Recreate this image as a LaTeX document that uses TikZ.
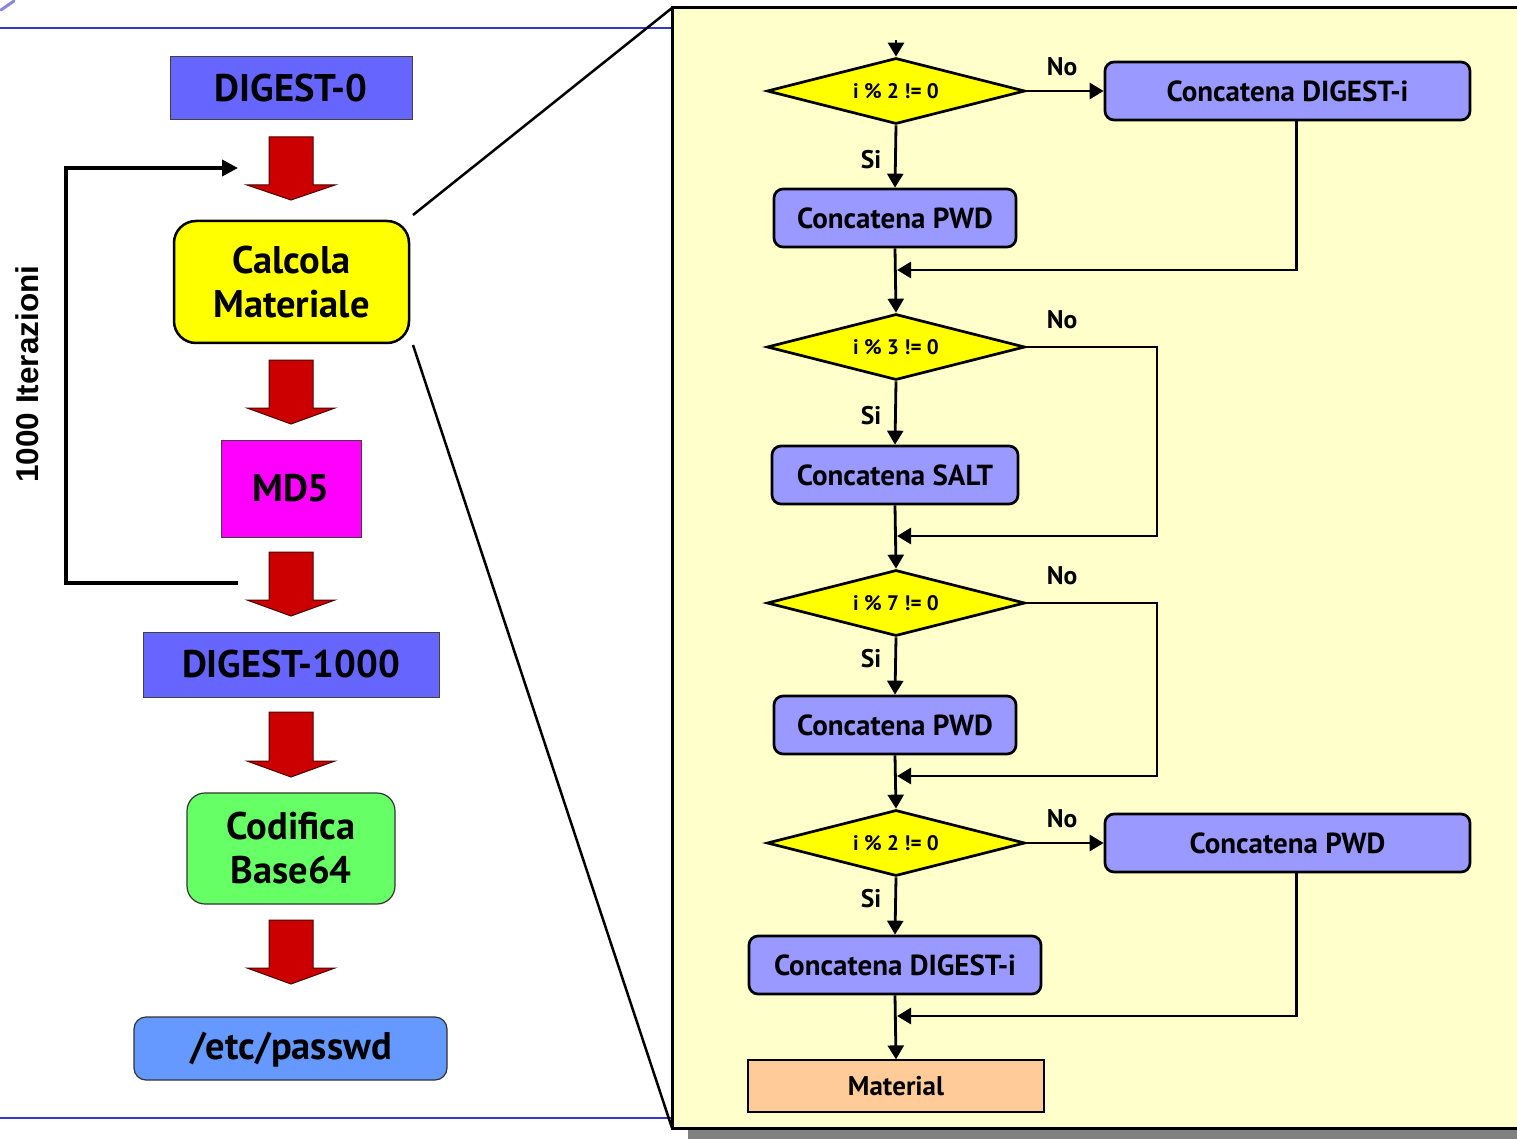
\documentclass[tikz,border=0pt]{standalone}
\usepackage{fontspec}
\setmainfont{PT Sans}
\newfontfamily\arialfont{Liberation Sans}
\usetikzlibrary{shapes.geometric,arrows.meta}
\definecolor{digblue}{HTML}{6666FF}
\definecolor{calcyel}{HTML}{FFFF00}
\definecolor{mdmag}{HTML}{FF00FF}
\definecolor{codgreen}{HTML}{66FF66}
\definecolor{pwblue}{HTML}{6699FF}
\definecolor{arrred}{HTML}{CC0000}
\definecolor{panelbg}{HTML}{FFFFCC}
\definecolor{boxblue}{HTML}{9999FF}
\definecolor{matorange}{HTML}{FFCC99}
\definecolor{rulecol}{HTML}{3838C8}
\definecolor{shadowgray}{HTML}{808080}
\newcommand\redblock[4]{\draw[blockarrow] (#1-22,#2) -- (#1+22,#2) -- (#1+22,#3) -- (#1+44,#3) -- (#1,#4) -- (#1-44,#3) -- (#1-22,#3) -- cycle;}
\tikzset{
  lbox/.style={draw=black!75, line width=1pt, inner sep=0pt, align=center,
    font=\bfseries\fontsize{38.5}{44}\selectfont},
  pbox/.style={draw=black, line width=2.7pt, rounded corners=9pt, fill=boxblue,
    minimum height=58pt, inner sep=0pt, font=\bfseries\fontsize{29}{32}\selectfont},
  cond/.style={diamond, draw=black, line width=2.7pt, fill=calcyel, aspect=3.9,
    minimum width=258pt, minimum height=66pt, inner sep=0pt,
    font=\bfseries\fontsize{21}{24}\selectfont},
  conn/.style={line width=2.8pt, -{Triangle[length=14pt,width=16pt]}},
  lab/.style={font=\bfseries\fontsize{25.5}{28}\selectfont},
  blockarrow/.style={fill=arrred, draw=black!70!red, line width=1pt},
  loopline/.style={line width=3.8pt, -{Triangle[length=16pt,width=16pt]}},
  zoomline/.style={line width=2.5pt},
}
\begin{document}
\begin{tikzpicture}[x=1pt,y=-1pt]
\useasboundingbox (0,0) rectangle (1517,1139);
\fill[white] (0,0) rectangle (1517,1139);
% corner mark and rules
\draw[rulecol!60, line width=3pt, line cap=round] (1,10) -- (14,1);
\draw[rulecol, line width=2pt] (0,28) -- (672,28);
\draw[rulecol, line width=2pt] (0,1118) -- (672,1118);
% panel with shadow
\fill[shadowgray] (688,1128) rectangle (1540,1139);
\draw[line width=3pt, fill=panelbg] (672,8) rectangle (1540,1128);
\coordinate (pTL) at (672,8);
\coordinate (pBL) at (672,1128);
% left column
\node[lbox, fill=digblue, minimum width=242pt, minimum height=63pt] (d0) at (291,88.5) {DIGEST-0};
\node[lbox, fill=calcyel, draw=black, line width=2.5pt, rounded corners=22pt, minimum width=235pt, minimum height=122pt] (calc) at (291.5,282) {Calcola\\Materiale};
\node[lbox, fill=mdmag, minimum width=140pt, minimum height=97pt] (md5) at (291,488.5) {MD5};
\node[lbox, fill=digblue, minimum width=296pt, minimum height=65pt] (d1000) at (291,664.5) {DIGEST-1000};
\node[lbox, fill=codgreen, line width=1.2pt, draw=black!80, rounded corners=18pt, minimum width=208pt, minimum height=111pt] (cod) at (291,848.5) {Codifica\\Base64};
\node[lbox, fill=pwblue, line width=1.2pt, draw=black!80, rounded corners=12pt, minimum width=313pt, minimum height=63pt] (pwd) at (290.5,1048.5) {};
\node[font=\bfseries\fontsize{38.5}{44}\selectfont, inner sep=0pt] (pwdtext) at (291,1050) {/etc/passwd};
\redblock{291}{137}{185}{200}
\redblock{291}{360}{408}{424}
\redblock{291}{552}{600}{616}
\redblock{291}{712}{761}{777}
\redblock{291}{920}{968}{984}
% loop
\coordinate (lpA) at (238,583);
\coordinate (lpB) at (238,168);
\draw[loopline] (lpA) -- (66,583) -- (66,168) -- (lpB);
\node[rotate=90, font=\arialfont\bfseries\fontsize{31.5}{34}\selectfont] (iter) at (27,374) {1000 Iterazioni};
% zoom lines
\coordinate (z1) at (413,215);
\coordinate (z2) at (413,345);
\draw[zoomline] (z1) -- (pTL);
\draw[zoomline] (z2) -- (pBL);
% flowchart
\coordinate (start) at (896,40);
\node[cond] (c1) at (896,91) {i \% 2 != 0};
\node[pbox, minimum width=365pt] (r1) at (1287.5,91) {Concatena DIGEST-i};
\node[pbox, minimum width=242pt] (b1) at (895,218) {Concatena PWD};
\node[cond] (c2) at (896,347) {i \% 3 != 0};
\node[pbox, minimum width=246pt] (b2) at (895,475) {Concatena SALT};
\node[cond] (c3) at (896,603) {i \% 7 != 0};
\node[pbox, minimum width=242pt] (b3) at (895,725) {Concatena PWD};
\node[cond] (c4) at (896,843) {i \% 2 != 0};
\node[pbox, minimum width=365pt] (r2) at (1287.5,843) {Concatena PWD};
\node[pbox, minimum width=292pt] (b4) at (895,965) {Concatena DIGEST-i};
\node[draw=black, line width=1.2pt, fill=matorange, minimum width=296pt, minimum height=52pt, inner sep=0pt, font=\bfseries\fontsize{27}{30}\selectfont] (mat) at (896,1086) {Material};
\coordinate (m1) at (897,270);
\coordinate (m2) at (897,536);
\coordinate (m3) at (897,776);
\coordinate (m4) at (897,1016);
\coordinate (k2) at (1157,347);
\coordinate (k3) at (1157,603);
\draw[conn] (start) -- (c1.north);
\draw[conn] (c1.east) -- (r1.west);
\draw[conn] (c1.south) -- (b1.north);
\draw[conn] ([xshift=9pt]r1.south) |- (m1);
\draw[conn] (b1.south) -- (c2.north);
\draw[conn] (c2.east) -- (k2) |- (m2);
\draw[conn] (c2.south) -- (b2.north);
\draw[conn] (b2.south) -- (c3.north);
\draw[conn] (c3.east) -- (k3) |- (m3);
\draw[conn] (c3.south) -- (b3.north);
\draw[conn] (b3.south) -- (c4.north);
\draw[conn] (c4.east) -- (r2.west);
\draw[conn] (c4.south) -- (b4.north);
\draw[conn] ([xshift=9pt]r2.south) |- (m4);
\draw[conn] (b4.south) -- (mat.north);
% labels
\node[lab] (no1) at (1062,67) {No};
\node[lab] (no2) at (1062,320) {No};
\node[lab] (no3) at (1062,576) {No};
\node[lab] (no4) at (1062,819) {No};
\node[lab] (si1) at (871,160) {Si};
\node[lab] (si2) at (871,416) {Si};
\node[lab] (si3) at (871,659) {Si};
\node[lab] (si4) at (871,899) {Si};
\end{tikzpicture}
\end{document}
